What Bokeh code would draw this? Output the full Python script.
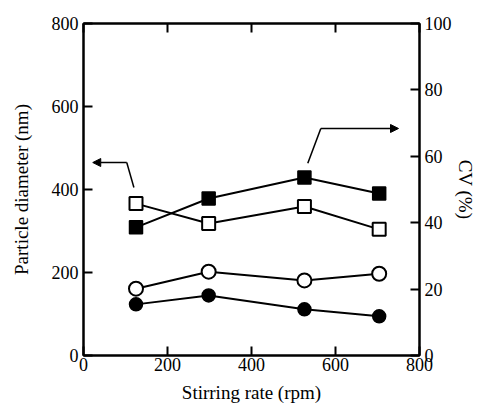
from bokeh.plotting import figure
from bokeh.models import LinearAxis, Range1d, FixedTicker, Arrow, NormalHead
from bokeh.embed import file_html
from bokeh.resources import INLINE

# data
rate = [125, 298, 526, 704]
diam_open_sq = [366, 318, 359, 304]
diam_open_circ = [161, 202, 181, 197]
cv_filled_sq = [38.6, 47.3, 53.6, 48.8]
cv_filled_circ = [15.4, 18.1, 13.9, 11.8]
x_ticks = [0, 200, 400, 600, 800]
left_ticks = [0, 200, 400, 600, 800]
right_ticks = [0, 20, 40, 60, 80, 100]

FONT = "Liberation Serif"

p = figure(width=478, height=410, x_range=Range1d(0, 800), y_range=Range1d(0, 800),
           output_backend="svg", toolbar_location=None,
           x_axis_location=None, y_axis_location=None,
           min_border_left=83, min_border_right=50, min_border_top=23, min_border_bottom=55)
p.extra_y_ranges = {"cv": Range1d(0, 100)}
p.grid.visible = False
p.outline_line_color = "black"
p.outline_line_width = 2
p.background_fill_color = "white"
p.border_fill_color = "white"


def style(ax):
    ax.axis_line_width = 2
    ax.axis_line_color = "black"
    ax.major_tick_line_width = 2
    ax.major_tick_out = 0
    ax.major_tick_in = 9
    ax.minor_tick_line_color = None
    ax.major_label_text_font = FONT
    ax.major_label_text_font_size = "18px"
    ax.major_label_text_color = "black"
    ax.axis_label_text_font = FONT
    ax.axis_label_text_font_size = "19px"
    ax.axis_label_text_font_style = "normal"
    ax.axis_label_text_color = "black"


xb = LinearAxis(ticker=FixedTicker(ticks=x_ticks), axis_label="Stirring rate (rpm)")
style(xb)
xb.major_label_standoff = 2
xb.axis_label_standoff = 8
p.add_layout(xb, "below")

xt = LinearAxis(ticker=FixedTicker(ticks=x_ticks),
                major_label_overrides={t: "" for t in x_ticks})
style(xt)
xt.major_label_standoff = 0
p.add_layout(xt, "above")

yl = LinearAxis(ticker=FixedTicker(ticks=left_ticks), axis_label="Particle diameter (nm)")
style(yl)
yl.major_label_standoff = 5
yl.axis_label_standoff = 17
p.add_layout(yl, "left")

yr = LinearAxis(y_range_name="cv", ticker=FixedTicker(ticks=right_ticks), axis_label="CV (%)")
style(yr)
yr.major_label_standoff = 5
yr.axis_label_standoff = 0
p.add_layout(yr, "right")

# lines
p.line(rate, diam_open_sq, line_color="black", line_width=2)
p.line(rate, diam_open_circ, line_color="black", line_width=2)
p.line(rate, cv_filled_sq, line_color="black", line_width=2, y_range_name="cv")
p.line(rate, cv_filled_circ, line_color="black", line_width=2, y_range_name="cv")

# markers
p.scatter(rate, cv_filled_sq, marker="square", size=13, fill_color="black",
          line_color="black", line_width=1.5, y_range_name="cv")
p.scatter(rate, cv_filled_circ, marker="circle", size=13, fill_color="black",
          line_color="black", line_width=1.5, y_range_name="cv")
p.scatter(rate, diam_open_sq, marker="square", size=13, fill_color="white",
          line_color="black", line_width=2)
p.scatter(rate, diam_open_circ, marker="circle", size=14, fill_color="white",
          line_color="black", line_width=2)

# pointer arrows (annotations)
p.segment(x0=[120, 534], y0=[405, 463], x1=[103, 565], y1=[465, 547],
          line_color="black", line_width=1.5)
p.add_layout(Arrow(x_start=103, y_start=465, x_end=22, y_end=465, line_width=1.5,
                   end=NormalHead(size=8, fill_color="black", line_color="black")))
p.add_layout(Arrow(x_start=565, y_start=547, x_end=750, y_end=547, line_width=1.5,
                   end=NormalHead(size=8, fill_color="black", line_color="black")))

open("out.html", "w").write(file_html(p, INLINE))
